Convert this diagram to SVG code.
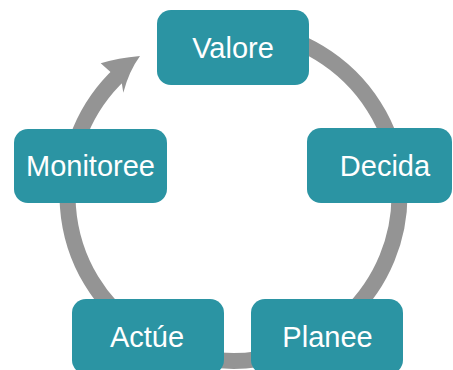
<svg xmlns="http://www.w3.org/2000/svg" width="453" height="370" viewBox="0 0 453 370">
<style>
.box{fill:#2b94a3;}
.lbl{fill:#ffffff;font-family:"Liberation Sans",Arial,sans-serif;font-size:29px;text-anchor:middle;}
.ring{fill:none;stroke:#949494;stroke-width:16;stroke-linecap:butt;}
.head{fill:#949494;}
</style>
<rect width="453" height="370" fill="#ffffff"/>
<g id="connectors">
<path class="ring" d="M262.33,31.52 A166,166 0 1 1 120.3,73.6"/>
<path class="head" d="M140,56 Q118,58 100.7,63.3 L110.5,72 L121.8,83.3 L123.3,92.7 Q129,71 140,56 Z"/>
</g>
<g id="node-valore">
<rect class="box" x="157" y="10" width="152" height="75" rx="14"/>
<text class="lbl" x="233" y="57.5">Valore</text>
</g>
<g id="node-decida">
<rect class="box" x="307" y="128" width="145" height="75" rx="14"/>
<text class="lbl" x="385" y="175.5">Decida</text>
</g>
<g id="node-planee">
<rect class="box" x="251" y="299" width="152" height="75" rx="14"/>
<text class="lbl" x="327.5" y="346.5">Planee</text>
</g>
<g id="node-actue">
<rect class="box" x="72" y="299" width="152" height="75" rx="14"/>
<text class="lbl" x="147" y="346.5">Actúe</text>
</g>
<g id="node-monitoree">
<rect class="box" x="14" y="129" width="153" height="74" rx="14"/>
<text class="lbl" x="90.5" y="175.5">Monitoree</text>
</g>
</svg>
